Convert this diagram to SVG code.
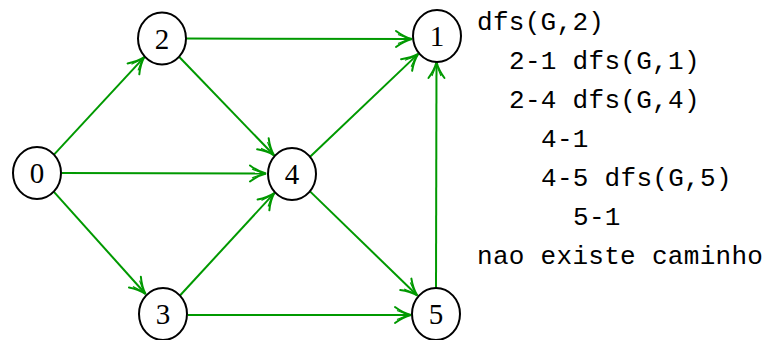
<svg xmlns="http://www.w3.org/2000/svg" width="764" height="340" viewBox="0 0 764 340">
  <style>
    .node ellipse { fill: #ffffff; stroke: #000000; stroke-width: 2; }
    .node text { font-family: "Liberation Serif", "DejaVu Serif", serif; font-size: 29px; text-anchor: middle; fill: #000000; }
    .edge { stroke: #009900; stroke-width: 2; fill: none; marker-end: url(#arrow); }
    .trace { font-family: "Liberation Mono", "DejaVu Sans Mono", monospace; font-size: 26px; letter-spacing: 0.3px; fill: #000000; }
  </style>
  <defs>
    <marker id="arrow" markerUnits="userSpaceOnUse" markerWidth="24" markerHeight="24" viewBox="-20 -12 24 24" refX="0" refY="0" orient="auto">
      <path d="M-16,-8 C-10,-3.5 -4,-1 0,0 C-4,1 -10,3.5 -16,8" fill="none" stroke="#009900" stroke-width="2" stroke-linecap="round"/>
      <path d="M-14,-4.5 C-9,-2.2 -4,-0.6 0,0 C-4,0.6 -9,2.2 -14,4.5" fill="none" stroke="#009900" stroke-width="1.2"/>
    </marker>
  </defs>

  <g id="edges">
    <line class="edge" x1="54" y1="154.6" x2="144.3" y2="57.1"/>
    <line class="edge" x1="62" y1="173" x2="266" y2="173.5"/>
    <line class="edge" x1="53.7" y1="191.6" x2="145.6" y2="294"/>
    <line class="edge" x1="186" y1="38.5" x2="412" y2="39"/>
    <line class="edge" x1="179.3" y1="57" x2="274" y2="155.3"/>
    <line class="edge" x1="310.1" y1="156.8" x2="418.2" y2="53.9"/>
    <line class="edge" x1="310" y1="191.4" x2="417.3" y2="295.5"/>
    <line class="edge" x1="180" y1="295.5" x2="274.3" y2="193.1"/>
    <line class="edge" x1="188" y1="315" x2="411" y2="315"/>
    <line class="edge" x1="436" y1="288" x2="436.5" y2="62"/>
  </g>

  <g id="node0" class="node">
    <ellipse cx="37" cy="173" rx="24" ry="26"/>
    <text x="37" y="183">0</text>
  </g>
  <g id="node2" class="node">
    <ellipse cx="162" cy="38.5" rx="24" ry="26"/>
    <text x="162" y="48.5">2</text>
  </g>
  <g id="node1" class="node">
    <ellipse cx="437" cy="36" rx="24" ry="26"/>
    <text x="437" y="46">1</text>
  </g>
  <g id="node4" class="node">
    <ellipse cx="292" cy="174" rx="24" ry="26"/>
    <text x="292" y="184">4</text>
  </g>
  <g id="node3" class="node">
    <ellipse cx="163" cy="314" rx="24" ry="26"/>
    <text x="163" y="324">3</text>
  </g>
  <g id="node5" class="node">
    <ellipse cx="436" cy="314" rx="24" ry="26"/>
    <text x="436" y="324">5</text>
  </g>

  <g id="trace">
    <text class="trace" x="477" y="30">dfs(G,2)</text>
    <text class="trace" x="509" y="69">2-1 dfs(G,1)</text>
    <text class="trace" x="509" y="108">2-4 dfs(G,4)</text>
    <text class="trace" x="541" y="147">4-1</text>
    <text class="trace" x="541" y="186">4-5 dfs(G,5)</text>
    <text class="trace" x="573" y="225">5-1</text>
    <text class="trace" x="477" y="264">nao existe caminho</text>
  </g>
</svg>
